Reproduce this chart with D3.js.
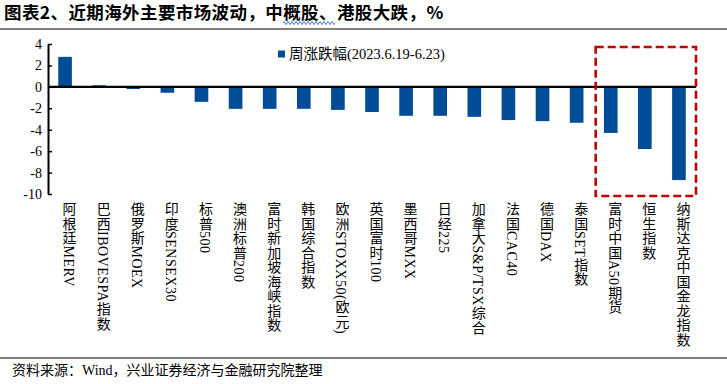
<!DOCTYPE html>
<html lang="zh">
<head>
<meta charset="UTF-8">
<title>近期海外主要市场波动</title>
<script src="https://d3js.org/d3.v7.min.js"></script>
<style>
  * { margin: 0; padding: 0; }
  body { background: #fff; }
  svg text { font-family: "Liberation Serif", "Noto Sans CJK SC", serif; }
</style>
</head>
<body>
<div id="chart"></div>
<script>
// data
const markets = ["阿根廷MERV", "巴西IBOVESPA指数", "俄罗斯MOEX", "印度SENSEX30", "标普500",
  "澳洲标普200", "富时新加坡海峡指数", "韩国综合指数", "欧洲STOXX50(欧元)", "英国富时100",
  "墨西哥MXX", "日经225", "加拿大S&P/TSX综合", "法国CAC40", "德国DAX", "泰国SET指数",
  "富时中国A50期货", "恒生指数", "纳斯达克中国金龙指数"];
const weeklyChange = [2.8, 0.15, -0.2, -0.55, -1.4, -2.05, -2.05, -2.05, -2.15, -2.35,
  -2.7, -2.7, -2.8, -3.1, -3.2, -3.35, -4.3, -5.8, -8.7];
const yTicks = [4, 2, 0, -2, -4, -6, -8, -10];
const highlighted = ["富时中国A50期货", "恒生指数", "纳斯达克中国金龙指数"];
const seriesName = "周涨跌幅(2023.6.19-6.23)";
const title = "图表2、近期海外主要市场波动，中概股、港股大跌，%";
const source = "资料来源：Wind，兴业证券经济与金融研究院整理";

const w = 727, h = 384;
const svg = d3.select("#chart").append("svg").attr("width", w).attr("height", h);

// title + rules
svg.append("text").attr("x", 4).attr("y", 19)
  .style("font-family", "'Noto Sans CJK SC', sans-serif")
  .style("font-weight", "bold").style("font-size", "17.5px")
  .style("letter-spacing", "0.4px")
  .text(title);

// blue spell-check squiggle under 中概股
let sq = "M283,23";
for (let k = 0; k < 13; k++) sq += " l1,-1.6 l1,1.6 l1,1.6 l1,-1.6";
svg.append("path").attr("d", sq).attr("fill", "none")
  .attr("stroke", "#3f7ad6").attr("stroke-width", 1);

svg.append("line").attr("x1", 0).attr("x2", w).attr("y1", 29).attr("y2", 29)
  .attr("stroke", "#000").attr("stroke-width", 1.2);
svg.append("line").attr("x1", 0).attr("x2", w).attr("y1", 358).attr("y2", 358)
  .attr("stroke", "#000").attr("stroke-width", 1.2);
svg.append("text").attr("x", 12).attr("y", 375)
  .style("font-size", "14px").text(source);

// scales
let xScale = d3.scaleBand().domain(markets).range([48, 696]).paddingInner(0.6).paddingOuter(0.3);
let yScale = d3.scaleLinear().domain([-10, 4]).range([194, 44]);

// bars
svg.selectAll("rect.bar").data(markets).enter().append("rect")
  .attr("class", "bar")
  .attr("x", d => xScale(d))
  .attr("width", xScale.bandwidth())
  .attr("y", (d, i) => yScale(Math.max(0, weeklyChange[i])))
  .attr("height", (d, i) => Math.abs(yScale(weeklyChange[i]) - yScale(0)))
  .attr("fill", "#004C97");

// y axis
let yAxis = d3.axisLeft(yScale).tickValues(yTicks).tickSizeInner(-4).tickSizeOuter(0)
  .tickFormat(d3.format("d"));
let gy = svg.append("g").attr("transform", "translate(48,0)").call(yAxis);
gy.select(".domain").attr("stroke", "#000").attr("stroke-width", 2);
gy.selectAll(".tick line").attr("stroke", "#000").attr("stroke-width", 1.5);
gy.selectAll(".tick text").attr("x", -6).style("font-size", "14px")
  .style("font-family", "'Liberation Serif', serif").attr("fill", "#000")
  .text(d => d < 0 ? "-" + Math.abs(d) : d);

// zero line
svg.append("line").attr("x1", 48).attr("x2", 696)
  .attr("y1", yScale(0)).attr("y2", yScale(0))
  .attr("stroke", "#000").attr("stroke-width", 2.2);

// vertical category labels
svg.selectAll("text.cat").data(markets).enter().append("text")
  .attr("class", "cat")
  .attr("x", d => xScale(d) + xScale.bandwidth() / 2 + 3)
  .attr("y", 202)
  .style("writing-mode", "vertical-rl")
  .style("font-size", "14px")
  .style("letter-spacing", "0.5px")
  .attr("fill", "#000")
  .text(d => d);

// red dashed highlight box
let boxLeft = xScale(highlighted[0]) - xScale.step() * xScale.paddingInner() / 2 + 2;
svg.append("rect")
  .attr("x", boxLeft)
  .attr("y", 47)
  .attr("width", 696 - boxLeft)
  .attr("height", 149)
  .attr("fill", "none").attr("stroke", "#C00000")
  .attr("stroke-width", 2.6).attr("stroke-dasharray", "8,4");

// legend
svg.append("rect").attr("x", 278).attr("y", 50.5).attr("width", 7).attr("height", 7).attr("fill", "#004C97");
svg.append("text").attr("x", 289).attr("y", 59).style("font-size", "14.5px").text(seriesName);
</script>
</body>
</html>
